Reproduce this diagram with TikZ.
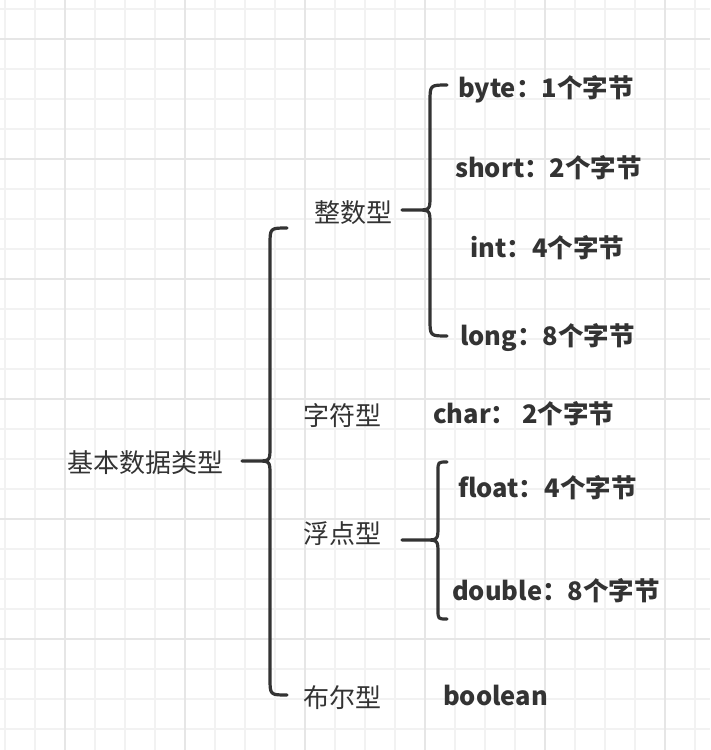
\documentclass[tikz,border=0pt]{standalone}
\usepackage{fontspec}
\setmainfont{Noto Sans CJK SC}
\usetikzlibrary{calc}
\definecolor{ink}{HTML}{333333}
\definecolor{gridminor}{HTML}{F2F2F2}
\definecolor{gridmajor}{HTML}{E6E6E6}
\tikzset{
  label/.style={anchor=west,inner sep=0pt,text=ink,font=\fontsize{26}{31}\selectfont,
    text height=23pt,text depth=3pt},
  boldlabel/.style={label,font=\fontsize{25.5}{31}\selectfont\bfseries},
  bracket/.style={draw=ink,line width=3.2pt,line cap=round,line join=round}
}
\newcommand{\curly}[4]{%
  \draw[bracket] (#2) .. controls ($(#2)+(-#4,0)$) .. ($(#2)+(-#4,#4)$)
    -- ($(#1 -| #2)+(-#4,-14)$) .. controls ($(#1 -| #2)+(-#4,0)$) .. ($(#1 -| #2)+(-#4-14,0)$)
    -- (#1) -- ($(#1 -| #2)+(-#4-14,0)$)
    .. controls ($(#1 -| #2)+(-#4,0)$) .. ($(#1 -| #2)+(-#4,14)$)
    -- ($(#3)+(-#4,-#4)$) .. controls ($(#3)+(-#4,0)$) .. (#3);
}
\begin{document}
\begin{tikzpicture}[x=1pt,y=-1pt]
\useasboundingbox (0,0) rectangle (710,750);
\fill[white] (0,0) rectangle (710,750);
\foreach \x in {5,35,...,710} \draw[gridminor,line width=1.2pt] (\x,0) -- (\x,750);
\foreach \y in {9,39,...,750} \draw[gridminor,line width=1.2pt] (0,\y) -- (710,\y);
\foreach \x in {65,185,...,710} \draw[gridmajor,line width=1.2pt] (\x,0) -- (\x,750);
\foreach \y in {39,159,...,750} \draw[gridmajor,line width=1.2pt] (0,\y) -- (710,\y);

\node[label] (root) at (67,462) {基本数据类型};
\node[label] (zhengshu) at (314,212) {整数型};
\node[label] (zifu) at (303,415) {字符型};
\node[label] (fudian) at (303,533) {浮点型};
\node[label] (buer) at (303,697) {布尔型};

\node[boldlabel] (byte) at (458,87) {byte：1个字节};
\node[boldlabel] (short) at (455,167) {short：2个字节};
\node[boldlabel] (int) at (470,247) {int：4个字节};
\node[boldlabel] (long) at (460,335) {long：8个字节};
\node[boldlabel] (char) at (433,413) {char：\ 2个字节};
\node[boldlabel] (float) at (458,487) {float：4个字节};
\node[boldlabel] (double) at (452,590) {double：8个字节};
\node[boldlabel] (boolean) at (443,695) {boolean};

\coordinate (root-mid) at (242,461);
\coordinate (root-top) at (287,228);
\coordinate (root-bot) at (287,695);
\coordinate (zs-mid) at (402,210);
\coordinate (zs-top) at (447,85);
\coordinate (zs-bot) at (447,336);
\coordinate (fd-mid) at (402,540);
\coordinate (fd-top) at (447,462);
\coordinate (fd-bot) at (447,619);

\curly{root-mid}{root-top}{root-bot}{17}
\curly{zs-mid}{zs-top}{zs-bot}{17}
\curly{fd-mid}{fd-top}{fd-bot}{9}
\end{tikzpicture}
\end{document}
